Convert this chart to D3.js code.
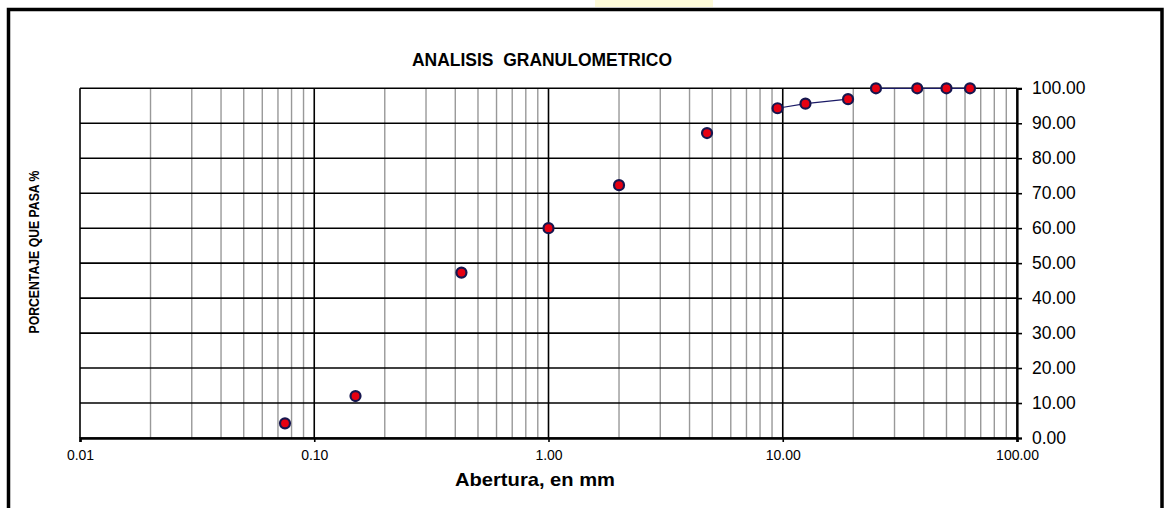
<!DOCTYPE html>
<html>
<head>
<meta charset="utf-8">
<script src="https://cdn.jsdelivr.net/npm/d3@7"></script>
<style>
  body { margin: 0; background: #fff; }
  text { font-family: "Liberation Sans", Arial, sans-serif; }
</style>
</head>
<body>
<svg width="1165" height="508"></svg>
<script>
// datos del ensayo (abertura en mm, % que pasa)
const aberturas = [0.075, 0.15, 0.425, 1.0, 2.0, 4.75, 9.5, 12.5, 19.0, 25.0, 37.5, 50.0, 63.0]
const pasa = [4.2, 12.0, 47.3, 60.0, 72.3, 87.2, 94.3, 95.6, 96.9, 100.0, 100.0, 100.0, 100.0]
// tramos unidos con linea (indices)
const tramos = [[6, 7, 8], [9, 10, 11, 12]]

const xTicks = [0.01, 0.1, 1, 10, 100]
const yTicks = [0, 10, 20, 30, 40, 50, 60, 70, 80, 90, 100]

const titulo = 'ANALISIS  GRANULOMETRICO'
const tituloX = 'Abertura, en mm'
const tituloY = 'PORCENTAJE QUE PASA %'

const svg = d3.select('svg')
const plotLeft = 80, plotRight = 1017, plotTop = 88.3, plotBottom = 438

const x = d3.scaleLog().domain([0.01, 100]).range([plotLeft, plotRight])
const y = d3.scaleLinear().domain([0, 100]).range([plotBottom, plotTop])

// marco exterior + marca de agua
svg.append('rect')
    .attr('x', 595).attr('y', 0).attr('width', 118).attr('height', 7)
    .attr('fill', '#fdfad8')
svg.append('rect')
    .attr('x', 8.5).attr('y', 9.5).attr('width', 1153.5).attr('height', 520)
    .attr('fill', 'none').attr('stroke', '#000').attr('stroke-width', 3.5)

// lineas secundarias (2..9 de cada decada)
const minors = []
xTicks.slice(0, -1).forEach(d => {
    for (let k = 2; k <= 9; k++) minors.push(d * k)
})
svg.append('g').selectAll('line').data(minors).join('line')
    .attr('x1', d => x(d)).attr('x2', d => x(d))
    .attr('y1', plotTop).attr('y2', plotBottom)
    .attr('stroke', '#999').attr('stroke-width', 1.4)

// lineas principales
svg.append('g').selectAll('line').data(yTicks).join('line')
    .attr('x1', plotLeft).attr('x2', plotRight)
    .attr('y1', d => y(d)).attr('y2', d => y(d))
    .attr('stroke', '#000').attr('stroke-width', 1.6)
svg.append('g').selectAll('line').data(xTicks).join('line')
    .attr('x1', d => x(d)).attr('x2', d => x(d))
    .attr('y1', plotTop).attr('y2', plotBottom)
    .attr('stroke', '#000').attr('stroke-width', 1.6)

// eje x
const xAxis = svg.append('g')
    .attr('transform', `translate(0,${plotBottom})`)
    .call(d3.axisBottom(x).tickValues(xTicks).tickFormat(d3.format('.2f')).tickSize(4).tickPadding(8))
xAxis.select('.domain').attr('stroke', '#000').attr('stroke-width', 2.6)
xAxis.selectAll('.tick line').attr('stroke', '#000').attr('stroke-width', 1.6)
xAxis.selectAll('text').attr('font-size', 14).attr('fill', '#000')

// eje y (derecha)
const yAxis = svg.append('g')
    .attr('transform', `translate(${plotRight},0)`)
    .call(d3.axisRight(y).tickValues(yTicks).tickFormat(d3.format('.2f')).tickSize(5).tickPadding(10))
yAxis.select('.domain').attr('stroke', '#000').attr('stroke-width', 2.2)
yAxis.selectAll('.tick line').attr('stroke', '#000').attr('stroke-width', 1.6)
yAxis.selectAll('text').attr('font-size', 17.5).attr('fill', '#000')

// linea de la curva
const line = d3.line().x(i => x(aberturas[i])).y(i => y(pasa[i]))
svg.append('g').selectAll('path').data(tramos).join('path')
    .attr('d', line)
    .attr('fill', 'none').attr('stroke', '#1a1a66').attr('stroke-width', 1.2)

// puntos
svg.append('g').selectAll('circle').data(aberturas).join('circle')
    .attr('cx', d => x(d))
    .attr('cy', (d, i) => y(pasa[i]))
    .attr('r', 5)
    .attr('fill', '#e60012')
    .attr('stroke', '#16164f').attr('stroke-width', 2.2)

// titulos
svg.append('text')
    .attr('x', 542).attr('y', 65.5)
    .attr('text-anchor', 'middle')
    .attr('font-size', 17.5).attr('font-weight', 'bold')
    .style('white-space', 'pre')
    .attr('textLength', 260).attr('lengthAdjust', 'spacingAndGlyphs')
    .text(titulo)

svg.append('text')
    .attr('x', 535).attr('y', 486)
    .attr('text-anchor', 'middle')
    .attr('font-size', 19).attr('font-weight', 'bold')
    .attr('textLength', 160).attr('lengthAdjust', 'spacingAndGlyphs')
    .text(tituloX)

svg.append('text')
    .attr('transform', 'translate(39,252) rotate(-90)')
    .attr('text-anchor', 'middle')
    .attr('font-size', 14).attr('font-weight', 'bold')
    .attr('textLength', 163).attr('lengthAdjust', 'spacingAndGlyphs')
    .text(tituloY)
</script>
</body>
</html>
